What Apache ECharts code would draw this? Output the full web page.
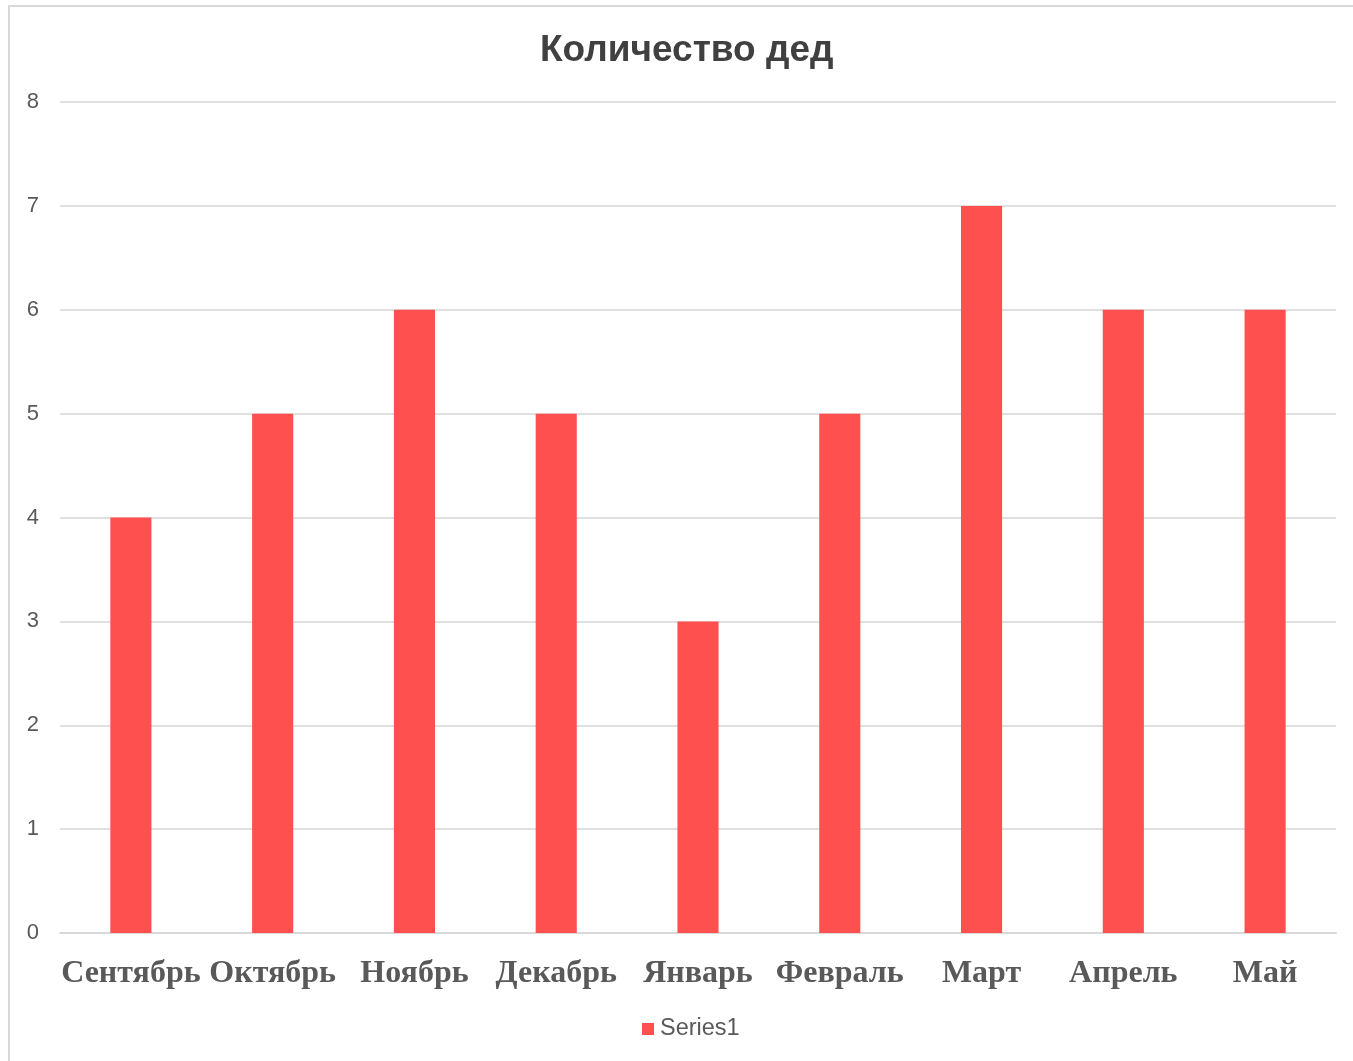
<!DOCTYPE html>
<html>
<head>
<meta charset="utf-8">
<script src="https://cdn.jsdelivr.net/npm/echarts@6/dist/echarts.min.js"></script>
<style>
html,body{margin:0;padding:0;background:#fff;}
#c{width:1353px;height:1061px;}
</style>
</head>
<body>
<div id="c"></div>
<script>
const categories = ['Сентябрь','Октябрь','Ноябрь','Декабрь','Январь','Февраль','Март','Апрель','Май'];
const series1 = [4,5,6,5,3,5,7,6,6];
const yTicks = {min:0, max:8, interval:1};

const chart = echarts.init(document.getElementById('c'));
chart.setOption({
  animation:false,
  backgroundColor:'#fff',
  graphic:[{type:'rect', shape:{x:9,y:6,width:1400,height:1100}, style:{fill:'none', stroke:'#d9d9d9', lineWidth:2}, silent:true}],
  title:{text:'Количество дед', left:535, top:27,
    textStyle:{fontFamily:'Liberation Sans, Arial', fontWeight:'bold', fontSize:37, color:'#404040'}},
  legend:{bottom:15, left:637, itemWidth:12, itemHeight:12, icon:'rect', itemGap:10,
    textStyle:{fontFamily:'Liberation Sans, Arial', fontSize:23.5, color:'#595959', padding:[0,0,0,1]}},
  grid:{left:60, right:17, top:102, bottom:128, containLabel:false},
  xAxis:{type:'category', data:categories,
    axisLine:{lineStyle:{color:'#d9d9d9', width:2}}, axisTick:{show:false},
    axisLabel:{fontFamily:'Liberation Serif, Times New Roman', fontWeight:'bold', fontSize:32, color:'#595959', margin:25, interval:0}},
  yAxis:{type:'value', min:yTicks.min, max:yTicks.max, interval:yTicks.interval,
    axisLine:{show:false}, axisTick:{show:false},
    splitLine:{lineStyle:{color:'#e0e0e0', width:2}},
    axisLabel:{fontFamily:'Liberation Sans, Arial', fontSize:22, color:'#595959', margin:21}},
  series:[{name:'Series1', type:'bar', data:series1, barWidth:'29%', itemStyle:{color:'#ff5050'}}]
});
</script>
</body>
</html>
